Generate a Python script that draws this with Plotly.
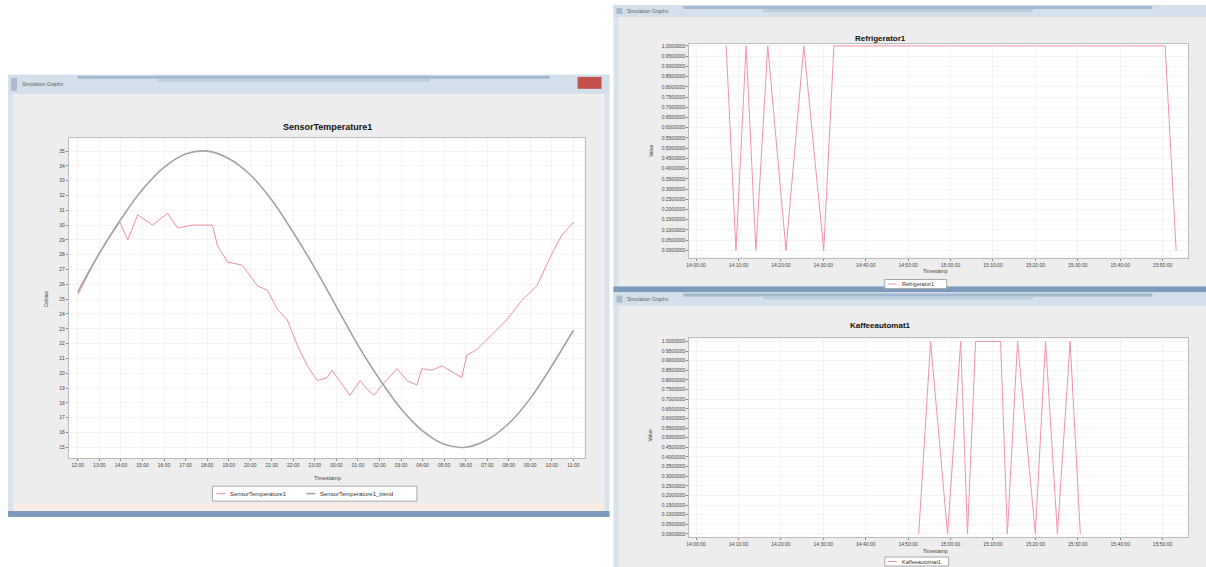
import plotly.graph_objects as go

W, H = 1206, 567

# ---------------- data ----------------
# SensorTemperature1: hourly model curve and the noisier measured series
temp_tick_min = [0, 60, 120, 180, 240, 300, 360, 420, 480, 540, 600, 660,
                 720, 780, 840, 900, 960, 1020, 1080, 1140, 1200, 1260, 1320, 1380]
temp_tick_text = ["12:00", "13:00", "14:00", "15:00", "16:00", "17:00", "18:00", "19:00",
                  "20:00", "21:00", "22:00", "23:00", "00:00", "01:00", "02:00", "03:00",
                  "04:00", "05:00", "06:00", "07:00", "08:00", "09:00", "10:00", "11:00"]
temp_y_ticks = [15, 16, 17, 18, 19, 20, 21, 22, 23, 24, 25, 26, 27, 28, 29, 30,
                31, 32, 33, 34, 35]

trend_min = [0, 60, 120, 180, 240, 300, 360, 420, 480, 540, 600, 660,
             720, 780, 840, 900, 960, 1020, 1080, 1140, 1200, 1260, 1320, 1380]
trend_val = [25.5, 28.1, 30.4, 32.4, 33.9, 34.8, 35.0, 34.5, 33.4, 31.7, 29.5, 27.1,
             24.5, 21.9, 19.6, 17.6, 16.1, 15.2, 15.0, 15.5, 16.6, 18.3, 20.5, 22.9]

meas_min = [0, 42, 83, 117, 139, 167, 208, 250, 278, 319, 375, 389, 417, 458, 500,
            528, 556, 583, 611, 639, 667, 694, 708, 736, 758, 786, 806, 825, 847,
            889, 917, 944, 958, 986, 1014, 1042, 1069, 1083, 1111, 1153, 1194, 1236,
            1278, 1319, 1347, 1381]
meas_val = [25.3, 27.3, 29.0, 30.2, 29.0, 30.7, 30.0, 30.8, 29.8, 30.0, 30.0, 28.6,
            27.5, 27.3, 25.9, 25.6, 24.3, 23.6, 21.9, 20.5, 19.5, 19.7, 20.2, 19.2,
            18.5, 19.5, 18.9, 18.5, 19.2, 20.3, 19.5, 19.2, 20.3, 20.2, 20.5, 20.1,
            19.7, 21.2, 21.6, 22.6, 23.6, 24.9, 25.9, 28.0, 29.3, 30.2]

# On/off devices (minutes since start, state)
state_tick_min = [0, 10, 20, 30, 40, 50, 60, 70, 80, 90, 100, 110]
state_tick_text = ["14:00:00", "14:10:00", "14:20:00", "14:30:00", "14:40:00", "14:50:00",
                   "15:00:00", "15:10:00", "15:20:00", "15:30:00", "15:40:00", "15:50:00"]
state_y_ticks = [0.0, 0.05, 0.1, 0.15, 0.2, 0.25, 0.3, 0.35, 0.4, 0.45, 0.5,
                 0.55, 0.6, 0.65, 0.7, 0.75, 0.8, 0.85, 0.9, 0.95, 1.0]

fridge_min = [7.1, 9.4, 11.8, 14.1, 16.9, 21.2, 25.4, 30.1, 32.5, 110.6, 113.2]
fridge_val = [1, 0, 1, 0, 1, 0, 1, 0, 1, 1, 0]

coffee_min = [52.5, 55.3, 59.3, 62.4, 64.0, 65.9, 71.8, 73.4, 75.8, 80.0, 82.4,
              85.2, 88.2, 90.6]
coffee_val = [0, 1, 0, 1, 0, 1, 1, 0, 1, 0, 1, 0, 1, 0]

MEAS_COLOR = "#ec8fa0"
TREND_COLOR = "#a3a3a3"
STATE_COLOR = "#f393a6"

# ---------------- helpers ----------------
def fx(px):
    return px / W


def fy(py):
    return 1 - py / H


FONT = "Liberation Sans, Arial, sans-serif"
shapes = []
annotations = []


def rect(x0, y0, x1, y1, fill, line=None, lw=0, opacity=1.0, layer="below"):
    shapes.append(dict(type="rect", xref="paper", yref="paper",
                       x0=fx(x0), x1=fx(x1), y0=fy(y1), y1=fy(y0),
                       fillcolor=fill, opacity=opacity, layer=layer,
                       line=dict(color=line or fill, width=lw)))


def hline(x0, x1, y, color, width):
    shapes.append(dict(type="line", xref="paper", yref="paper",
                       x0=fx(x0), x1=fx(x1), y0=fy(y), y1=fy(y),
                       layer="above", line=dict(color=color, width=width)))


def text(x, y, s, size=6, color="#333", bold=False, angle=0, xanchor="center"):
    annotations.append(dict(xref="paper", yref="paper", x=fx(x), y=fy(y),
                            text=f"<b>{s}</b>" if bold else s, showarrow=False,
                            xanchor=xanchor, yanchor="middle", textangle=angle,
                            font=dict(family=FONT, size=size, color=color)))


def window(x0, y0, x1, y1, bar_h):
    # frame, body, title bar with caption
    rect(x0, y0, x1, y1, "#d9e3ee")
    rect(x0 + 5, y0 + bar_h, x1 - 5, y1 - 6, "#ededed")
    rect(x0, y0, x1, y0 + bar_h, "#d3dfeb")
    rect(x0 + 70, y0 + 1, x1 - 60, y0 + 4, "#8ea8c5", opacity=0.7)
    rect(x0 + 150, y0 + 4, x1 - 180, y0 + 7, "#b3c6da", opacity=0.7)
    rect(x0, y1 - 6, x1, y1, "#7b9abc")
    rect(x0 + 3, y0 + 3, x0 + 9, y0 + bar_h - 3, "#a9bccf")
    text(x0 + 12, y0 + bar_h / 2, "Simulation Graphs", size=5, color="#666", xanchor="left")


def legend_box(x0, y0, x1, y1, entries, size=6):
    # entries: (line start x, colour, width, label)
    rect(x0, y0, x1, y1, "#ffffff", line="#a8a8a8", lw=1, layer="above")
    ym = (y0 + y1) / 2
    for lx, color, width, label in entries:
        hline(lx, lx + 9, ym, color, width)
        text(lx + 12, ym, label, size=size, color="#333", xanchor="left")


# ---------------- window chrome ----------------
window(5, 74, 608, 517, 19)
rect(576, 76, 600, 88, "#c4524c")
rect(10, 503, 603, 511, "#f9ece4")
window(612, 4, 1212, 292, 12)
window(612, 292, 1212, 575, 13)

# white plotting areas
rect(66, 137, 583, 458, "#ffffff")
rect(688, 43, 1188, 257, "#ffffff")
rect(688, 338, 1188, 537, "#ffffff")

# ---------------- traces ----------------
fig = go.Figure()
fig.add_trace(go.Scatter(x=meas_min, y=meas_val, mode="lines", name="SensorTemperature1",
                         line=dict(color=MEAS_COLOR, width=1), xaxis="x", yaxis="y"))
fig.add_trace(go.Scatter(x=trend_min, y=trend_val, mode="lines",
                         name="SensorTemperature1_trend",
                         line=dict(color=TREND_COLOR, width=1.6, shape="spline"),
                         xaxis="x", yaxis="y"))
fig.add_trace(go.Scatter(x=fridge_min, y=fridge_val, mode="lines", name="Refrigerator1",
                         line=dict(color=STATE_COLOR, width=1), xaxis="x2", yaxis="y2"))
fig.add_trace(go.Scatter(x=coffee_min, y=coffee_val, mode="lines", name="Kaffeeautomat1",
                         line=dict(color=STATE_COLOR, width=1), xaxis="x3", yaxis="y3"))

# ---------------- axes ----------------
def axis(domain, rng, tickvals, ticktext, anchor):
    return dict(domain=domain, range=rng, tickvals=tickvals, ticktext=ticktext,
                anchor=anchor, showline=True, linecolor="#bdbdbd", linewidth=1,
                mirror=True, ticks="outside", ticklen=2, tickcolor="#888",
                tickfont=dict(family=FONT, size=5, color="#444"),
                showgrid=True, gridcolor="#f4f4f4", zeroline=False, fixedrange=True)


layout_axes = dict(
    xaxis=axis([fx(66), fx(583)], [-25, 1411], temp_tick_min, temp_tick_text, "y"),
    yaxis=axis([fy(458), fy(137)], [14.26, 35.9], temp_y_ticks,
               [str(v) for v in temp_y_ticks], "x"),
    xaxis2=axis([fx(688), fx(1188)], [-1.6, 116], state_tick_min, state_tick_text, "y2"),
    yaxis2=axis([fy(257), fy(43)], [-0.035, 1.01], state_y_ticks,
                [f"{v:.7f}" for v in state_y_ticks], "x2"),
    xaxis3=axis([fx(688), fx(1188)], [-1.6, 116], state_tick_min, state_tick_text, "y3"),
    yaxis3=axis([fy(537), fy(338)], [-0.016, 1.016], state_y_ticks,
                [f"{v:.7f}" for v in state_y_ticks], "x3"),
)

# ---------------- titles and legends ----------------
text(325, 126, "SensorTemperature1", size=9, color="#111", bold=True)
text(325, 478, "Timestamp", size=5.5, color="#444")
text(44, 298, "Celsius", size=5, color="#444", angle=-90)
text(880, 38, "Refrigerator1", size=8, color="#111", bold=True)
text(935, 270, "Timestamp", size=5, color="#444")
text(649, 150, "Value", size=5, color="#444", angle=-90)
text(880, 325, "Kaffeeautomat1", size=8, color="#111", bold=True)
text(935, 551, "Timestamp", size=5, color="#444")
text(649, 435, "Value", size=5, color="#444", angle=-90)

legend_box(210, 486, 415, 501, [(214, MEAS_COLOR, 1, "SensorTemperature1"),
                                (304, TREND_COLOR, 1.6, "SensorTemperature1_trend")])
legend_box(884, 279, 946, 288, [(887, STATE_COLOR, 1, "Refrigerator1")], size=5.5)
legend_box(884, 557, 948, 566, [(887, STATE_COLOR, 1, "Kaffeeautomat1")], size=5.5)

fig.update_layout(
    width=W, height=H, margin=dict(l=0, r=0, t=0, b=0),
    paper_bgcolor="#ffffff", plot_bgcolor="#ffffff", showlegend=False,
    shapes=shapes, annotations=annotations,
    **layout_axes,
)

fig.write_html("out.html")
